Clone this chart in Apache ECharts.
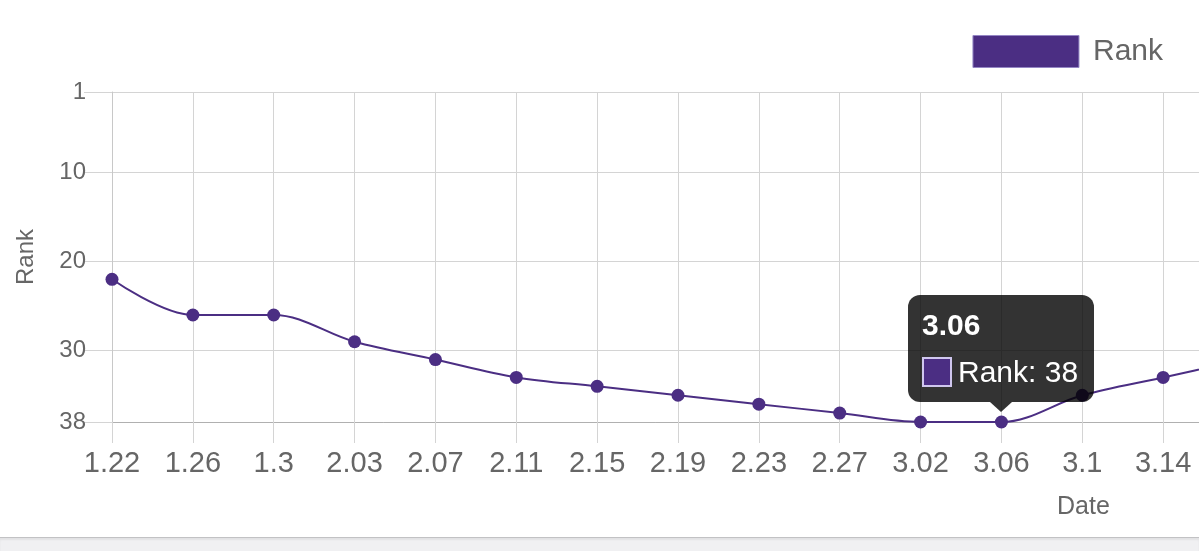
<!DOCTYPE html>
<html>
<head>
<meta charset="utf-8">
<script src="https://cdn.jsdelivr.net/npm/echarts@6/dist/echarts.min.js"></script>
<style>
  html, body { margin: 0; padding: 0; background: #fff; overflow: hidden; }
  #chart { width: 1199px; height: 537px; }
  #strip { width: 1199px; height: 13px; background: #f0f0f2; border-top: 1px solid #c2c2c4; box-shadow: inset 0 2px 2px rgba(0,0,0,0.06); }
</style>
</head>
<body>
<div id="chart"></div>
<div id="strip"></div>
<script>
// 数据
const dates = ['1.22', '1.26', '1.3', '2.03', '2.07', '2.11', '2.15', '2.19', '2.23', '2.27', '3.02', '3.06', '3.1', '3.14', '3.18'];
const ranks = [22, 26, 26, 29, 31, 33, 34, 35, 36, 37, 38, 38, 35, 33, 31];
const rankTicks = [1, 10, 20, 30, 38];

const purple = '#4b2e83';
const font = '"Liberation Sans", Arial, sans-serif';
const gridColor = '#d4d4d4';

const chart = echarts.init(document.getElementById('chart'));

// 提示框内容（带底部小三角）
const tipHtml = function (p) {
  return '<div style="font-weight:bold;line-height:32px">' + p.name + '</div>' +
    '<div style="margin-top:15px;line-height:32px;display:flex;align-items:center">' +
    '<span style="display:inline-block;width:26px;height:26px;background:' + purple +
    ';border:2px solid #cfc6ee;margin-right:6px"></span>Rank: ' + p.value + '</div>' +
    '<div style="position:absolute;left:50%;bottom:-10px;margin-left:-11px;width:0;height:0;' +
    'border-left:11px solid transparent;border-right:11px solid transparent;' +
    'border-top:10px solid rgba(0,0,0,0.8)"></div>';
};

chart.setOption({
  animation: false,
  textStyle: { fontFamily: font },
  title: {
    text: 'Date',
    left: 1057,
    top: 495,
    padding: 0,
    textStyle: { fontSize: 25, color: '#666', fontWeight: 'normal', fontFamily: font }
  },
  legend: {
    data: ['Rank'],
    right: 36,
    top: 35,
    padding: 0,
    icon: 'rect',
    itemWidth: 106,
    itemHeight: 32,
    itemStyle: { color: purple, borderColor: '#9486c4', borderWidth: 1 },
    textStyle: { fontSize: 30, color: '#666', padding: [0, 0, 0, 9], fontFamily: font }
  },
  tooltip: {
    trigger: 'item',
    triggerOn: 'none',
    alwaysShowContent: true,
    position: function (point, params, dom, rect, size) {
      const w = size.contentSize[0];
      const h = size.contentSize[1];
      return [rect.x + rect.width / 2 - w / 2, rect.y + rect.height / 2 - h - 20];
    },
    backgroundColor: 'rgba(0,0,0,0.8)',
    borderColor: 'rgba(0,0,0,0.8)',
    borderWidth: 0,
    padding: [14, 16, 14, 14],
    extraCssText: 'border-radius:12px;box-shadow:none;',
    textStyle: { color: '#fff', fontSize: 30, fontFamily: font },
    formatter: tipHtml
  },
  grid: { left: 112, top: 92, width: 1132, height: 330, outerBoundsMode: 'none' },
  xAxis: {
    type: 'category',
    data: dates,
    boundaryGap: false,
    axisLine: { onZero: false, lineStyle: { color: '#b0b0b0' } },
    axisTick: { length: 21, lineStyle: { color: gridColor } },
    axisLabel: { fontSize: 29, color: '#666', margin: 27, fontFamily: font },
    splitLine: { show: true, lineStyle: { color: gridColor } }
  },
  yAxis: {
    type: 'value',
    inverse: true,
    min: 1,
    max: 38,
    name: 'Rank',
    nameLocation: 'middle',
    nameGap: 74,
    nameTextStyle: { fontSize: 24, color: '#666', fontFamily: font },
    axisLine: { show: true, lineStyle: { color: '#c8c8c8' } },
    axisTick: { show: true, length: 28, customValues: rankTicks, lineStyle: { color: gridColor } },
    axisLabel: { customValues: rankTicks, fontSize: 24, color: '#666', margin: 26, fontFamily: font },
    splitLine: { show: true, lineStyle: { color: gridColor } }
  },
  series: [
    {
      name: 'Rank',
      type: 'line',
      data: ranks,
      smooth: 0.35,
      symbol: 'circle',
      symbolSize: 13,
      itemStyle: { color: purple },
      lineStyle: { color: purple, width: 2 },
      emphasis: { disabled: true }
    }
  ]
});

chart.dispatchAction({ type: 'showTip', seriesIndex: 0, dataIndex: 11 });
</script>
</body>
</html>
